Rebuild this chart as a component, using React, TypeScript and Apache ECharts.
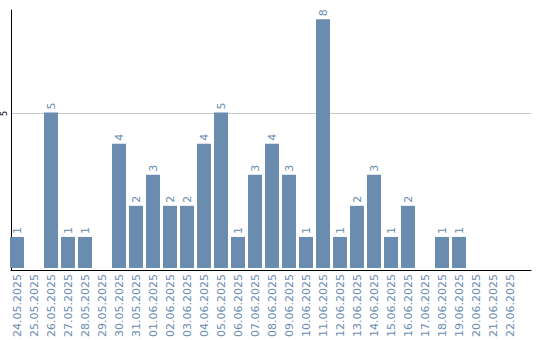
import React, { useEffect, useRef } from "react";
import * as echarts from "echarts";

const categories = [
  "24.05.2025", "25.05.2025", "26.05.2025", "27.05.2025", "28.05.2025",
  "29.05.2025", "30.05.2025", "31.05.2025", "01.06.2025", "02.06.2025",
  "03.06.2025", "04.06.2025", "05.06.2025", "06.06.2025", "07.06.2025",
  "08.06.2025", "09.06.2025", "10.06.2025", "11.06.2025", "12.06.2025",
  "13.06.2025", "14.06.2025", "15.06.2025", "16.06.2025", "17.06.2025",
  "18.06.2025", "19.06.2025", "20.06.2025", "21.06.2025", "22.06.2025",
];

const values = [
  1, 0, 5, 1, 1, 0, 4, 2, 3, 2, 2, 4, 5, 1, 3, 4, 3, 1, 8, 1, 2, 3, 1, 2, 0,
  1, 1, 0, 0, 0,
];

const yMax = 8.3;
const yInterval = 5;

const BAR_COLOR = "#6a8caf";
const FONT = "DejaVu Sans";

export default function App() {
  const ref = useRef<HTMLDivElement>(null);

  useEffect(() => {
    document.body.style.margin = "0";
    if (!ref.current) return;
    const chart = echarts.init(ref.current, null, { renderer: "svg" });
    chart.setOption({
      animation: false,
      grid: [
        { left: 10, top: 10, width: 521, height: 260, containLabel: false },
        { left: 8.5, top: 10, width: 510, height: 260, containLabel: false },
      ],
      xAxis: [
        {
          gridIndex: 0,
          type: "value",
          min: 0,
          max: 1,
          axisLine: { show: true, lineStyle: { color: "#000", width: 1 } },
          axisTick: { show: false },
          axisLabel: { show: false },
          splitLine: { show: false },
        },
        {
          gridIndex: 1,
          type: "category",
          data: categories,
          axisLine: { show: false },
          axisTick: { show: false },
          splitLine: { show: false },
          axisLabel: {
            interval: 0,
            rotate: 90,
            margin: 6,
            color: BAR_COLOR,
            fontSize: 11,
            fontFamily: FONT,
          },
        },
      ],
      yAxis: [
        {
          gridIndex: 0,
          type: "value",
          min: 0,
          max: yMax,
          interval: yInterval,
          axisLine: { show: true, lineStyle: { color: "#000", width: 1 } },
          axisTick: { show: false },
          axisLabel: {
            show: true,
            rotate: 90,
            margin: 3,
            color: "#000",
            fontSize: 8,
            fontFamily: FONT,
            showMinLabel: false,
            showMaxLabel: false,
          },
          splitLine: {
            show: true,
            lineStyle: { color: ["rgba(0,0,0,0)", "#c8c8c8", "rgba(0,0,0,0)"], width: 1 },
          },
        },
        {
          gridIndex: 1,
          type: "value",
          min: 0,
          max: yMax,
          show: false,
          splitLine: { show: false },
        },
      ],
      series: [
        {
          type: "bar",
          xAxisIndex: 1,
          yAxisIndex: 1,
          data: values.map((v) => (v === 0 ? null : v)),
          barWidth: 14,
          itemStyle: { color: BAR_COLOR },
          label: {
            show: true,
            position: "top",
            distance: 3,
            rotate: 90,
            align: "left",
            verticalAlign: "middle",
            color: BAR_COLOR,
            fontSize: 11,
            fontFamily: FONT,
          },
        },
      ],
    });
    return () => chart.dispose();
  }, []);

  return <div ref={ref} style={{ width: 540, height: 340 }} />;
}
